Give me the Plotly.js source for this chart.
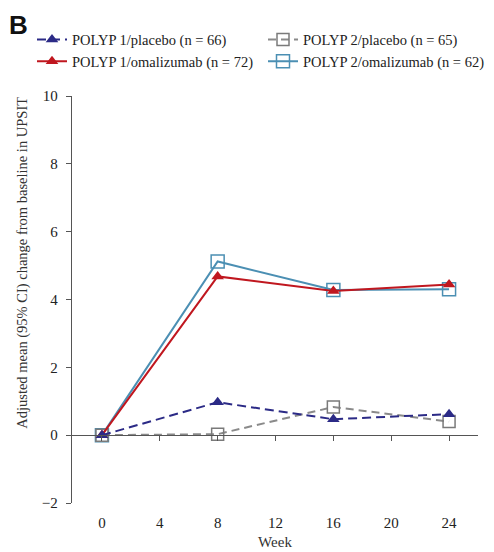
<!DOCTYPE html>
<html><head><meta charset="utf-8">
<script src="https://cdn.plot.ly/plotly-3.0.1.min.js"></script>
<style>html,body{margin:0;padding:0;background:#fff;}#chart{width:494px;height:552px;}</style>
</head><body><div id="chart"></div>
<script>
var weeks = [0, 8, 16, 24];
var p1Placebo = [0, 0.97, 0.47, 0.62];
var p2Placebo = [0, 0.03, 0.83, 0.40];
var p1Omalizumab = [0, 4.68, 4.25, 4.44];
var p2Omalizumab = [0, 5.12, 4.28, 4.30];
var seriesNames = ['POLYP 1/placebo (n = 66)', 'POLYP 2/placebo (n = 65)', 'POLYP 1/omalizumab (n = 72)', 'POLYP 2/omalizumab (n = 62)'];
var xTicks = [0, 4, 8, 12, 16, 20, 24];
var yTicks = [-2, 0, 2, 4, 6, 8, 10];

var serif = 'Liberation Serif, Times New Roman, serif';
var tP1P = {x: weeks, y: p1Placebo, name: seriesNames[0], legendrank: 1, mode: 'lines+markers',
   line: {color: '#2b2a86', width: 2, dash: '9px,5px'},
   marker: {symbol: 'triangle-up', size: 11, color: '#2b2a86'}};
var tP2P = {x: weeks, y: p2Placebo, name: seriesNames[1], legendrank: 2, mode: 'lines+markers',
   line: {color: '#8a8a8a', width: 2, dash: '8px,5px'},
   marker: {symbol: 'square-open', size: 12, color: '#7a7a7a', line: {width: 1.5}}};
var tP1O = {x: weeks, y: p1Omalizumab, name: seriesNames[2], legendrank: 3, mode: 'lines+markers',
   line: {color: '#c0171f', width: 2},
   marker: {symbol: 'triangle-up', size: 11, color: '#c0171f'}};
var tP2O = {x: weeks, y: p2Omalizumab, name: seriesNames[3], legendrank: 4, mode: 'lines+markers',
   line: {color: '#4b8fb3', width: 2},
   marker: {symbol: 'square-open', size: 13, color: '#4b8fb3', line: {width: 1.5}}};
var axisHelper = {x: [0], y: [0], xaxis: 'x2', mode: 'markers', marker: {opacity: 0}, showlegend: false, hoverinfo: 'skip'};
var traces = [tP2O, tP2P, tP1O, tP1P, axisHelper];

var layout = {
  width: 494, height: 552,
  margin: {l: 72, r: 16, t: 96, b: 49},
  paper_bgcolor: '#fff', plot_bgcolor: '#fff',
  font: {family: serif, color: '#222', size: 15},
  showlegend: true,
  legend: {orientation: 'h', x: -0.04, y: 1.178, xanchor: 'left', yanchor: 'top',
    entrywidth: 186, entrywidthmode: 'pixels', traceorder: 'normal', bgcolor: 'rgba(0,0,0,0)',
    font: {family: serif, size: 14.5, color: '#222'}, itemwidth: 30, tracegroupgap: 0},
  xaxis: {range: [-2.07, 26], tickvals: xTicks, ticktext: xTicks.map(String),
    showline: false, showgrid: false, zeroline: false, ticks: '',
    ticklabelstandoff: 9,
    title: {text: 'Week', font: {family: serif, size: 15, color: '#333'}, standoff: 6}},
  xaxis2: {range: [-2.07, 26], overlaying: 'x', matches: 'x', anchor: 'free', position: 1/6,
    tickvals: xTicks, showticklabels: false, showline: true, linecolor: '#555', linewidth: 1.3,
    ticks: 'outside', ticklen: 5, tickcolor: '#555', showgrid: false, zeroline: false},
  yaxis: {range: [-2, 10], tickvals: yTicks, ticktext: yTicks.map(function(v){return v < 0 ? '\u22122' : String(v);}),
    showline: true, linecolor: '#555', linewidth: 1.3, ticks: 'outside', ticklen: 5, tickcolor: '#555',
    showgrid: false, zeroline: false, ticklabelstandoff: 5},
  annotations: [
    {text: '<b>B</b>', xref: 'paper', yref: 'paper', x: -0.16, y: 1.215, xanchor: 'left', yanchor: 'top',
     showarrow: false, font: {family: 'Liberation Sans, Arial, sans-serif', size: 26, color: '#111'}},
    {text: 'Adjusted mean (95% CI) change from baseline in UPSIT', textangle: -90,
     xref: 'paper', yref: 'paper', x: -0.121, y: 0.59, xanchor: 'center', yanchor: 'middle',
     showarrow: false, font: {family: serif, size: 14.5, color: '#333'}}
  ]
};
Plotly.newPlot('chart', traces, layout, {displayModeBar: false, staticPlot: true});
</script></body></html>
